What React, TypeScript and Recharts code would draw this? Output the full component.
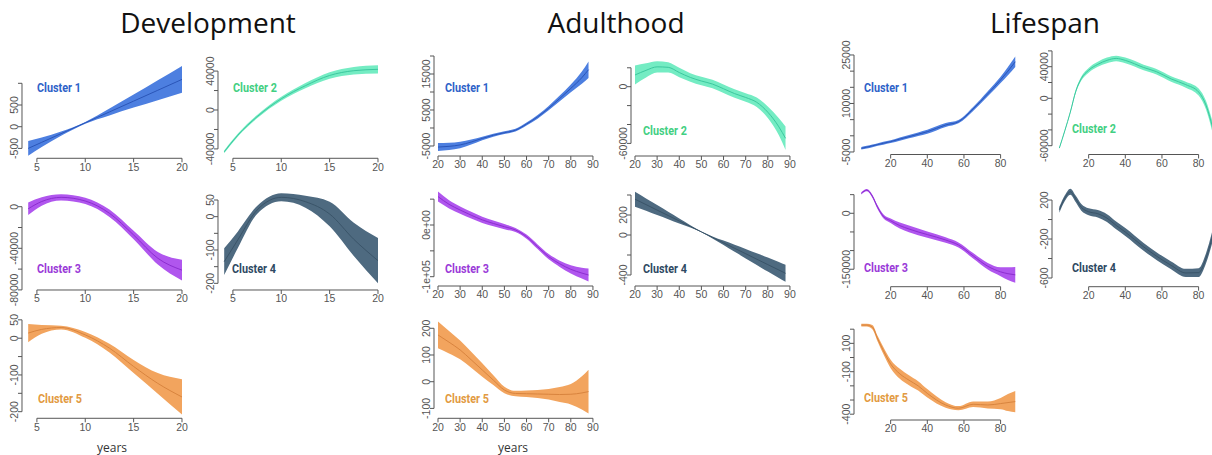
import React from "react";
import { Area, ComposedChart, Line, ReferenceLine, XAxis, YAxis } from "recharts";

const DEV_AGE = [4.1, 5.5, 7.5, 10, 12.5, 15, 17.5, 20];
const ADULT_AGE = [20, 25, 30, 35, 40, 45, 50, 55, 60, 65, 70, 75, 80, 85, 88];
const LIFE_AGE = [4, 7, 10, 13, 16, 20, 25, 30, 35, 40, 50, 57, 65, 73, 80, 84, 88];

const DEV_X_TICKS = [5, 10, 15, 20];
const ADULT_X_TICKS = [20, 30, 40, 50, 60, 70, 80, 90];
const LIFE_X_TICKS = [20, 40, 60, 80];

// development: fit and half width of the band
const devFit1 = [-500, -360, -160, 90, 340, 590, 840, 1090];
const devCi1 = [170, 110, 50, 20, 80, 150, 230, 310];
const devFit2 = [-43000, -26000, -6900, 11500, 25000, 35500, 40400, 41800];
const devCi2 = [1500, 1500, 1700, 2000, 2700, 3400, 3800, 4200];
const devFit3 = [-2000, 5000, 9000, 5500, -6300, -27200, -49600, -61000];
const devCi3 = [6000, 4000, 3000, 3000, 3500, 4000, 6000, 10000];
const devFit4 = [-135, -70, 20, 58, 45, 8, -68, -132];
const devCi4 = [40, 25, 12, 12, 18, 37, 50, 68];
const devFit5 = [14, 24, 29, 9, -27, -77, -123, -160];
const devCi5 = [25, 12, 5, 8, 12, 18, 28, 48];

// adulthood
const adFit1 = [-5300, -5100, -4700, -3900, -2900, -2000, -1300, -600, 1100, 3100, 5500, 8200, 11000, 14000, 16200];
const adCi1 = [1100, 1000, 900, 700, 500, 400, 400, 400, 400, 500, 600, 800, 1100, 1700, 2300];
const adFit2 = [12400, 17300, 21000, 20500, 15000, 9800, 6000, 2800, -2200, -7300, -11400, -16500, -27000, -42500, -54600];
const adCi2 = [10000, 7500, 6000, 5500, 5000, 4500, 4500, 4500, 4500, 4500, 4500, 5000, 6000, 9000, 12500];
const adFit3 = [55000, 40000, 29000, 19000, 10000, 3000, -3300, -9700, -22600, -42000, -61300, -75000, -85700, -93000, -96700];
const adCi3 = [9700, 8000, 7000, 6500, 6000, 5500, 5000, 4000, 4000, 4500, 5000, 6000, 8000, 10500, 12500];
const adFit4 = [358, 304, 249, 195, 140, 86, 31, -24, -78, -133, -187, -242, -296, -350, -383];
const adCi4 = [75, 62, 50, 37, 25, 12, 4, 10, 22, 35, 47, 59, 70, 80, 85];
const adFit5 = [175, 148, 119, 82, 44, 6, -31, -44, -45, -46, -47, -48, -47, -42, -37];
const adCi5 = [50, 42, 35, 30, 25, 18, 12, 10, 12, 15, 20, 28, 38, 62, 82];

// lifespan
const lifeFit1 = [-3870, -3500, -3100, -2700, -2300, -1800, -1000, -280, 500, 1270, 3340, 4360, 8300, 13000, 17300, 20000, 22900];
const lifeCi1 = [400, 400, 400, 400, 450, 450, 500, 500, 550, 600, 600, 500, 600, 800, 1000, 1300, 1600];
const lifeFit2 = [-63000, -41000, -17500, 9000, 25000, 35500, 43000, 48000, 50500, 48000, 39000, 33700, 24500, 17300, 8000, -8500, -40000];
const lifeCi2 = [1000, 1200, 1500, 2000, 2500, 3000, 3200, 3500, 3500, 3500, 3500, 3500, 3500, 3800, 4500, 5500, 7000];
const lifeFit3 = [53600, 62000, 46000, 15000, -8000, -20000, -33000, -42000, -50000, -57000, -71600, -85000, -114000, -142000, -157000, -162000, -165000];
const lifeCi3 = [3000, 3000, 4000, 5000, 5500, 6000, 8000, 9000, 9000, 8500, 7500, 7000, 7500, 9000, 12000, 17000, 21000];
const lifeFit4 = [100, 220, 285, 210, 125, 80, 60, 15, -60, -128, -280, -375, -470, -548, -545, -400, -140];
const lifeCi4 = [30, 30, 32, 34, 35, 35, 38, 40, 40, 40, 40, 40, 40, 42, 45, 52, 60];
const lifeFit5 = [229, 229, 215, 130, 50, -45, -115, -160, -200, -253, -335, -358, -330, -335, -325, -318, -311];
const lifeCi5 = [10, 10, 15, 20, 25, 30, 35, 35, 33, 30, 20, 15, 20, 25, 40, 60, 75];

const COLORS: Record<number, { band: string; line: string; label: string }> = {
  1: { band: "#4d7fe0", line: "#2a55b8", label: "#2e62c8" },
  2: { band: "#74ecc3", line: "#3cc79e", label: "#42cf82" },
  3: { band: "#b056ee", line: "#8c2ecf", label: "#9a3ad8" },
  4: { band: "#4e6a80", line: "#3a5468", label: "#2e4963" },
  5: { band: "#f2a45e", line: "#d8843e", label: "#e29a42" },
};

const AXIS = "#555";
const FONT = "'Liberation Sans', Arial, sans-serif";
const PAD_L = 30;
const PAD_T = 22;
const PAD_R = 10;
const PAD_B = 24;

const sci = (v: number) => (v === 0 ? "0e+00" : v === -100000 ? "-1e+05" : String(v));

type PanelDef = {
  cluster: number;
  age: number[];
  fit: number[];
  ci: number[];
  left: number;
  top: number;
  w: number;
  h: number;
  xDomain: [number, number];
  yDomain: [number, number];
  xTicks: number[];
  yTicks: number[];
  yLabels: number[];
  fmt?: (v: number) => string;
  labelX: number;
  labelY: number;
};

const DEV_W = 166.2;
const AD_W = 160.5;
const LIFE_W = 167.5;
const DEV_XD: [number, number] = [3.46, 20.64];
const AD_XD: [number, number] = [18.2, 90.7];
const LIFE_XD: [number, number] = [0, 91.4];

const PANELS: PanelDef[] = [
  { cluster: 1, age: DEV_AGE, fit: devFit1, ci: devCi1, left: 21.7, top: 62, w: DEV_W, h: 96.3, xDomain: DEV_XD, yDomain: [-728, 1491], xTicks: DEV_X_TICKS, yTicks: [-500, 0, 500, 1000], yLabels: [-500, 0, 500], labelX: 37, labelY: 87 },
  { cluster: 2, age: DEV_AGE, fit: devFit2, ci: devCi2, left: 218.3, top: 62, w: DEV_W, h: 96.3, xDomain: DEV_XD, yDomain: [-49640, 49330], xTicks: DEV_X_TICKS, yTicks: [-40000, -20000, 0, 20000, 40000], yLabels: [-40000, 0, 40000], labelX: 233, labelY: 87 },
  { cluster: 3, age: DEV_AGE, fit: devFit3, ci: devCi3, left: 21.7, top: 190, w: DEV_W, h: 100, xDomain: DEV_XD, yDomain: [-80100, 16060], xTicks: DEV_X_TICKS, yTicks: [-80000, -60000, -40000, -20000, 0], yLabels: [-80000, -40000, 0], labelX: 37, labelY: 268 },
  { cluster: 4, age: DEV_AGE, fit: devFit4, ci: devCi4, left: 218.3, top: 190, w: DEV_W, h: 100, xDomain: DEV_XD, yDomain: [-220, 80], xTicks: DEV_X_TICKS, yTicks: [-200, -150, -100, -50, 0, 50], yLabels: [-200, -100, 0, 50], labelX: 232, labelY: 268 },
  { cluster: 5, age: DEV_AGE, fit: devFit5, ci: devCi5, left: 21.7, top: 318, w: DEV_W, h: 100.3, xDomain: DEV_XD, yDomain: [-218, 55], xTicks: DEV_X_TICKS, yTicks: [-200, -150, -100, -50, 0, 50], yLabels: [-200, -100, 0, 50], labelX: 38, labelY: 398 },

  { cluster: 1, age: ADULT_AGE, fit: adFit1, ci: adCi1, left: 434.3, top: 55, w: AD_W, h: 101, xDomain: AD_XD, yDomain: [-7780, 20280], xTicks: ADULT_X_TICKS, yTicks: [-5000, 0, 5000, 10000, 15000, 20000], yLabels: [-5000, 5000, 15000], labelX: 445, labelY: 87 },
  { cluster: 2, age: ADULT_AGE, fit: adFit2, ci: adCi2, left: 631, top: 55, w: AD_W, h: 101, xDomain: AD_XD, yDomain: [-73330, 33540], xTicks: ADULT_X_TICKS, yTicks: [-60000, -40000, -20000, 0, 20000], yLabels: [-60000, 0], labelX: 643, labelY: 130 },
  { cluster: 3, age: ADULT_AGE, fit: adFit3, ci: adCi3, left: 434.3, top: 186, w: AD_W, h: 100, xDomain: AD_XD, yDomain: [-117990, 75440], xTicks: ADULT_X_TICKS, yTicks: [-100000, -50000, 0, 50000], yLabels: [-100000, 0], fmt: sci, labelX: 445, labelY: 268 },
  { cluster: 4, age: ADULT_AGE, fit: adFit4, ci: adCi4, left: 631, top: 186, w: AD_W, h: 100, xDomain: AD_XD, yDomain: [-510, 490], xTicks: ADULT_X_TICKS, yTicks: [-400, -200, 0, 200, 400], yLabels: [-400, 0, 200], labelX: 643, labelY: 268 },
  { cluster: 5, age: ADULT_AGE, fit: adFit5, ci: adCi5, left: 434.3, top: 316, w: AD_W, h: 102.3, xDomain: AD_XD, yDomain: [-137, 246], xTicks: ADULT_X_TICKS, yTicks: [-100, 0, 100, 200], yLabels: [-100, 0, 100, 200], labelX: 445, labelY: 398 },

  { cluster: 1, age: LIFE_AGE, fit: lifeFit1, ci: lifeCi1, left: 853.7, top: 50, w: LIFE_W, h: 104.5, xDomain: LIFE_XD, yDomain: [-5780, 26540], xTicks: LIFE_X_TICKS, yTicks: [-5000, 0, 5000, 10000, 15000, 20000, 25000], yLabels: [-5000, 10000, 25000], labelX: 864, labelY: 87 },
  { cluster: 2, age: LIFE_AGE, fit: lifeFit2, ci: lifeCi2, left: 1052, top: 50, w: LIFE_W, h: 104.5, xDomain: LIFE_XD, yDomain: [-71140, 61140], xTicks: LIFE_X_TICKS, yTicks: [-60000, -40000, -20000, 0, 20000, 40000, 60000], yLabels: [-60000, 0, 40000], labelX: 1072, labelY: 128 },
  { cluster: 3, age: LIFE_AGE, fit: lifeFit3, ci: lifeCi3, left: 853.7, top: 186, w: LIFE_W, h: 100.7, xDomain: LIFE_XD, yDomain: [-196800, 73190], xTicks: LIFE_X_TICKS, yTicks: [-150000, -100000, -50000, 0, 50000], yLabels: [-150000, 0], labelX: 864, labelY: 267 },
  { cluster: 4, age: LIFE_AGE, fit: lifeFit4, ci: lifeCi4, left: 1052, top: 186, w: LIFE_W, h: 100.7, xDomain: LIFE_XD, yDomain: [-689, 344], xTicks: LIFE_X_TICKS, yTicks: [-600, -400, -200, 0, 200], yLabels: [-600, -200, 200], labelX: 1072, labelY: 267 },
  { cluster: 5, age: LIFE_AGE, fit: lifeFit5, ci: lifeCi5, left: 853.7, top: 318, w: LIFE_W, h: 102, xDomain: LIFE_XD, yDomain: [-441, 279], xTicks: LIFE_X_TICKS, yTicks: [-400, -300, -200, -100, 0, 100, 200], yLabels: [-400, -100, 100], labelX: 864, labelY: 397 },
];

const TITLES = [
  { text: "Development", x: 208 },
  { text: "Adulthood", x: 616 },
  { text: "Lifespan", x: 1045 },
];

const YEAR_LABELS = [112, 513];

function YTick(props: any) {
  const { x, y, payload, labels, fmt } = props;
  if (!labels.includes(payload.value)) return null;
  const tx = x + 1;
  return (
    <text
      x={tx}
      y={y}
      transform={`rotate(-90 ${tx} ${y})`}
      textAnchor="middle"
      fontSize={10.5}
      fontFamily={FONT}
      fill={AXIS}
    >
      {fmt ? fmt(payload.value) : String(payload.value)}
    </text>
  );
}

function Panel({ p }: { p: PanelDef }) {
  const c = COLORS[p.cluster];
  const data = p.age.map((a, i) => ({
    age: a,
    fit: p.fit[i],
    band: [p.fit[i] - p.ci[i], p.fit[i] + p.ci[i]],
  }));
  const yt = p.yTicks;
  const xt = p.xTicks;
  return (
    <div style={{ position: "absolute", left: p.left - PAD_L, top: p.top - PAD_T }}>
      <ComposedChart
        width={p.w + PAD_L + PAD_R}
        height={p.h + PAD_T + PAD_B}
        data={data}
        margin={{ top: PAD_T, right: PAD_R, left: 0, bottom: 0 }}
      >
        <XAxis
          dataKey="age"
          type="number"
          domain={p.xDomain}
          ticks={xt}
          interval={0}
          allowDataOverflow
          axisLine={false}
          tickSize={4}
          tickMargin={1}
          height={PAD_B}
          tickLine={{ stroke: AXIS }}
          tick={{ fontSize: 10.5, fill: AXIS, fontFamily: FONT }}
        />
        <YAxis
          type="number"
          domain={p.yDomain}
          ticks={yt}
          interval={0}
          allowDataOverflow
          axisLine={false}
          width={PAD_L}
          tickSize={4}
          tickMargin={1}
          tickLine={{ stroke: AXIS }}
          tick={(tp: any) => <YTick {...tp} labels={p.yLabels} fmt={p.fmt} />}
        />
        <ReferenceLine
          segment={[
            { x: p.xDomain[0], y: yt[0] },
            { x: p.xDomain[0], y: yt[yt.length - 1] },
          ]}
          stroke={AXIS}
          ifOverflow="visible"
        />
        <ReferenceLine
          segment={[
            { x: xt[0], y: p.yDomain[0] },
            { x: xt[xt.length - 1], y: p.yDomain[0] },
          ]}
          stroke={AXIS}
          ifOverflow="visible"
        />
        <Area
          dataKey="band"
          type="monotone"
          fill={c.band}
          fillOpacity={1}
          stroke="none"
          isAnimationActive={false}
        />
        <Line
          dataKey="fit"
          type="monotone"
          stroke={c.line}
          strokeWidth={1}
          dot={false}
          isAnimationActive={false}
        />
      </ComposedChart>
    </div>
  );
}

export default function App() {
  return (
    <div
      style={{
        position: "absolute",
        left: 0,
        top: 0,
        width: 1212,
        height: 455,
        overflow: "hidden",
        background: "#fff",
      }}
    >
      {TITLES.map((t) => (
        <div
          key={t.text}
          style={{
            position: "absolute",
            left: t.x - 150,
            width: 300,
            top: 4,
            textAlign: "center",
            fontFamily: "'Open Sans', sans-serif",
            fontSize: 28,
            lineHeight: "36px",
            color: "#111",
          }}
        >
          {t.text}
        </div>
      ))}
      {PANELS.map((p, i) => (
        <Panel key={i} p={p} />
      ))}
      {PANELS.map((p, i) => (
        <div
          key={"l" + i}
          style={{
            position: "absolute",
            left: p.labelX,
            top: p.labelY - 8,
            fontFamily: "Roboto, sans-serif",
            fontWeight: 700,
            fontSize: 13.5,
            lineHeight: "16px",
            whiteSpace: "nowrap",
            color: COLORS[p.cluster].label,
            transform: "scaleX(0.8)",
            transformOrigin: "left center",
          }}
        >
          Cluster {p.cluster}
        </div>
      ))}
      {YEAR_LABELS.map((x) => (
        <div
          key={x}
          style={{
            position: "absolute",
            left: x - 30,
            width: 60,
            top: 440,
            textAlign: "center",
            fontFamily: "'Open Sans', sans-serif",
            fontSize: 12,
            lineHeight: "16px",
            color: "#333",
          }}
        >
          years
        </div>
      ))}
    </div>
  );
}
